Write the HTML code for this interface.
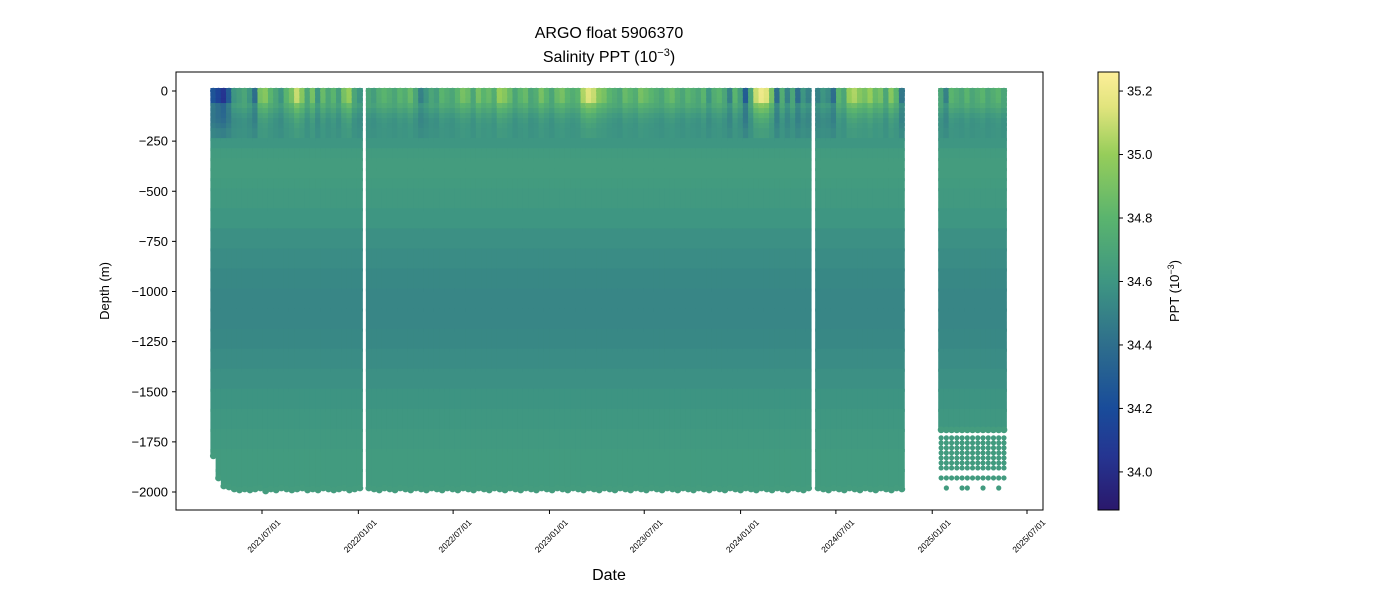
<!DOCTYPE html>
<html><head><meta charset="utf-8"><style>
body{margin:0;background:#fff;font-family:"Liberation Sans","DejaVu Sans",sans-serif}
</style></head><body>
<svg id="c" width="1400" height="600" xmlns="http://www.w3.org/2000/svg" font-family="Liberation Sans, DejaVu Sans, sans-serif">
<text x="609" y="38" font-size="16" text-anchor="middle">ARGO float 5906370</text>
<text x="609" y="62" font-size="16" text-anchor="middle">Salinity PPT (10<tspan dy="-6" font-size="11">−3</tspan><tspan dy="6">)</tspan></text>
<g id="plot"></g>
<rect x="176" y="72" width="867" height="438" fill="none" stroke="#000" stroke-width="1"/>
<g id="yaxis"></g>
<g id="xaxis"></g>
<text transform="translate(109,291) rotate(-90)" font-size="13" text-anchor="middle">Depth (m)</text>
<text x="609" y="580" font-size="16" text-anchor="middle">Date</text>
<defs><linearGradient id="cbg" x1="0" y1="1" x2="0" y2="0"></linearGradient></defs>
<rect x="1098" y="72" width="21" height="438" fill="url(#cbg)" stroke="#000" stroke-width="1"/>
<g id="cbaxis"></g>
<text transform="translate(1179,291) rotate(-90)" font-size="13" text-anchor="middle">PPT (10<tspan dy="-5" font-size="9">−3</tspan><tspan dy="5">)</tspan></text>
</svg>
<script>
const yTicks=[0,-250,-500,-750,-1000,-1250,-1500,-1750,-2000];
const xTickLabels=["2021/07/01","2022/01/01","2022/07/01","2023/01/01","2023/07/01","2024/01/01","2024/07/01","2025/01/01","2025/07/01"];
const cbTicks=[34.0,34.2,34.4,34.6,34.8,35.0,35.2];
const segmentStarts=["2021-03-30","2022-01-21","2024-05-28","2025-01-18"];
const cycleDays=10;
const surface1=[34.25,34.15,34.05,34.3,34.6,34.65,34.7,34.6,34.4,34.9,34.95,34.8,34.7,34.6,34.8,34.9,35.1,34.95,34.7,34.9,34.6,34.85,34.7,34.8,34.65,34.9,35.0,34.7,34.6];
const surface2=[34.7,34.65,34.75,34.8,34.75,34.7,34.8,34.75,34.85,34.7,34.5,34.6,34.7,34.65,34.8,34.75,34.7,34.8,34.9,34.85,34.7,34.9,34.8,34.85,34.75,35.0,34.95,34.85,34.7,34.8,34.85,34.7,34.75,34.9,34.8,34.7,34.85,34.9,34.8,34.75,34.8,35.05,35.15,35.1,34.95,34.9,34.8,34.75,34.7,34.85,34.8,34.75,34.9,34.85,34.8,34.75,34.7,34.8,34.85,34.75,34.7,34.8,34.75,34.7,34.8,34.6,34.75,34.8,34.7,34.5,34.8,34.65,34.3,34.7,35.1,35.2,35.15,34.9,34.4,34.75,34.5,34.7,34.4,34.6,34.5];
const surface3=[34.5,34.6,34.55,34.4,34.8,34.7,35.0,35.05,34.95,34.9,35.0,34.85,34.9,34.7,34.95,34.8,34.45];
const surface4=[34.7,34.5,34.8,34.75,34.7,34.8,34.7,34.75,34.8,34.7,34.75,34.8,34.7];
const surfaces=[surface1,surface2,surface3,surface4];
const bottom1=[-1810,-1920,-1960,-1965,-1975,-1980,-1975,-1980,-1975,-1970,-1985,-1975,-1980,-1970,-1975,-1980,-1975,-1970,-1980,-1975,-1980,-1970,-1975,-1980,-1975,-1970,-1980,-1975,-1970];
const bottomDefault=-1970;
const seg4ContinuousBottom=-1680;
const seg4DotDepths=[-1730,-1755,-1780,-1805,-1830,-1855,-1880,-1930];
const depthLevels=[0,-25,-50,-75,-100,-125,-150,-175,-200,-250,-300,-350,-400,-450,-500,-600,-700,-800,-900,-1000,-1100,-1200,-1300,-1400,-1500,-1600,-1700,-1800,-1900,-2000];
const meanSal=[34.75,34.74,34.72,34.68,34.6,34.55,34.53,34.54,34.56,34.6,34.63,34.64,34.64,34.63,34.62,34.6,34.57,34.55,34.53,34.52,34.52,34.53,34.55,34.57,34.59,34.61,34.62,34.63,34.63,34.64];

const NS='http://www.w3.org/2000/svg';
const X0=176,X1=1043,Y0=72,Y1=510;
const t0=Date.UTC(2021,6,1),pxDay=(1027-262)/((Date.UTC(2025,6,1)-t0)/864e5);
function xScale(t){return 262+(t-t0)/864e5*pxDay;}
function yScale(d){return 91+(-d)*(401/2000);}
const cbMin=33.88,cbMax=35.26;
function cbScale(v){return 510-(v-cbMin)/(cbMax-cbMin)*438;}
const stops=[[33.88,[42,24,108]],[34.05,[37,53,145]],[34.2,[25,76,154]],[34.4,[46,110,140]],[34.6,[62,150,130]],[34.8,[90,180,110]],[35.0,[150,205,90]],[35.15,[225,228,125]],[35.26,[253,238,153]]];
function color(v){v=Math.max(cbMin,Math.min(cbMax,v));for(let i=0;i<stops.length-1;i++){const a=stops[i],b=stops[i+1];if(v<=b[0]){const f=(v-a[0])/(b[0]-a[0]);return 'rgb('+a[1].map((c,j)=>Math.round(c+(b[1][j]-c)*f)).join(',')+')';}}return 'rgb(253,238,153)';}
function mk(tag,attrs,parent){const e=document.createElementNS(NS,tag);for(const k in attrs)e.setAttribute(k,attrs[k]);parent.appendChild(e);return e;}
function salAt(i,s){const d=depthLevels[i];const m=meanSal[i];if(d>=-50)return s+(m-34.75)*0.3;if(d>=-250){const f=(-d-50)/200;return s*(1-f)*0.6+m*(1-(1-f)*0.6);}return m;}

const plot=document.getElementById('plot');
const w=cycleDays*pxDay+0.6;
surfaces.forEach((arr,si)=>{
  const start=Date.parse(segmentStarts[si]);
  arr.forEach((s,pi)=>{
    const t=start+pi*cycleDays*864e5;
    const cx=xScale(t);
    const g=mk('g',{},plot);
    
    
    let bot=si===0?bottom1[pi]:bottomDefault-(pi%3)*5;
    if(si===3)bot=seg4ContinuousBottom;
    for(let i=0;i<depthLevels.length-1;i++){
      const dTop=depthLevels[i],dBot=depthLevels[i+1];
      if(dTop<=bot)break;
      const yb=yScale(Math.max(dBot,bot));
      mk('rect',{x:cx-w/2,y:yScale(dTop)-3,width:w,height:yb-yScale(dTop)+3,fill:color(salAt(i,s))},g);
    }
    mk('circle',{cx:cx,cy:yScale(bot)+2,r:3.4,fill:color(meanSal[meanSal.length-1])},g);
    mk('circle',{cx:cx,cy:yScale(0),r:3.2,fill:color(salAt(0,s))},g);
    if(si===3){seg4DotDepths.forEach(d=>{const c=mk('circle',{cx:cx,cy:yScale(d),r:2.6,fill:color(34.63)},g);});}
  });
});
[[1,-1980],[4,-1980],[5,-1980],[8,-1980],[11,-1980]].forEach(([pi,d])=>{const c=mk('circle',{cx:xScale(Date.parse(segmentStarts[3])+pi*cycleDays*864e5),cy:yScale(d),r:2.6,fill:color(34.63)},plot);});

const ya=document.getElementById('yaxis');
yTicks.forEach(v=>{const y=yScale(v);mk('line',{x1:X0-4,x2:X0,y1:y,y2:y,stroke:'#000'},ya);const t=mk('text',{x:X0-8,y:y+4.5,'font-size':13,'text-anchor':'end'},ya);t.textContent=(v<0?'−':'')+Math.abs(v);});
const xa=document.getElementById('xaxis');
xTickLabels.forEach(l=>{const p=l.split('/');const x=xScale(Date.UTC(+p[0],+p[1]-1,+p[2]));mk('line',{x1:x,x2:x,y1:Y1,y2:Y1+4,stroke:'#000'},xa);const t=mk('text',{transform:'translate('+(x+19)+','+(Y1+13)+') rotate(-45)','font-size':8.5,'text-anchor':'end'},xa);t.textContent=l;});
const grad=document.getElementById('cbg');
stops.forEach(s=>{mk('stop',{offset:((s[0]-cbMin)/(cbMax-cbMin)).toFixed(4),'stop-color':'rgb('+s[1].join(',')+')'},grad);});
const ca=document.getElementById('cbaxis');
cbTicks.forEach(v=>{const y=cbScale(v);mk('line',{x1:1119,x2:1123,y1:y,y2:y,stroke:'#000'},ca);const t=mk('text',{x:1127,y:y+4.5,'font-size':13},ca);t.textContent=v.toFixed(1);});
</script>
</body></html>
